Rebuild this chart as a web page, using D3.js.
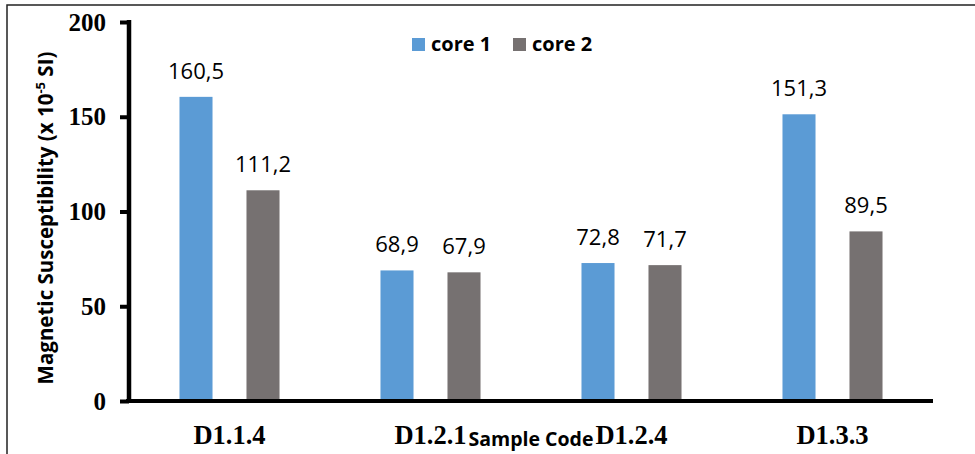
<!DOCTYPE html>
<html>
<head>
<meta charset="utf-8">
<script src="https://cdn.jsdelivr.net/npm/d3@7"></script>
<style>
  html, body { margin: 0; padding: 0; background: #fff; }
  svg { display: block; }
</style>
</head>
<body>
<svg id="chart" width="975" height="454"></svg>
<script>
const categories = ["D1.1.4", "D1.2.1", "D1.2.4", "D1.3.3"];
const seriesNames = ["core 1", "core 2"];
const core1 = [160.5, 68.9, 72.8, 151.3];
const core2 = [111.2, 67.9, 71.7, 89.5];
const yTicks = [0, 50, 100, 150, 200];
const colors = ["#5B9BD5", "#767171"];

const svg = d3.select("#chart");
const W = 975, H = 454;
const plot = { left: 129, right: 933, top: 22, bottom: 401 };

// frame
svg.append("rect").attr("x", 7).attr("y", 5).attr("width", W + 10).attr("height", H + 10)
  .attr("fill", "none").attr("stroke", "#222").attr("stroke-width", 1.5);

const x0 = d3.scaleBand().domain(categories).range([plot.left, plot.right]).padding(0);
const x1 = d3.scaleBand().domain(seriesNames).range([0, x0.bandwidth()])
  .paddingInner(0.507).paddingOuter(0.7535);
const y = d3.scaleLinear().domain([0, 200]).range([plot.bottom, plot.top]);

const locale = d3.formatLocale({ decimal: ",", thousands: ".", grouping: [3], currency: ["", ""] });
const fmt = locale.format(".1f");

const rows = categories.map((c, i) => ({ cat: c, vals: [core1[i], core2[i]] }));

// bars
const g = svg.append("g");
rows.forEach(r => {
  r.vals.forEach((v, j) => {
    const s = seriesNames[j];
    g.append("rect")
      .attr("x", x0(r.cat) + x1(s))
      .attr("y", y(v))
      .attr("width", x1.bandwidth())
      .attr("height", y(0) - y(v))
      .attr("fill", colors[j]);
    g.append("text")
      .attr("x", x0(r.cat) + x1(s) + x1.bandwidth() / 2)
      .attr("y", y(v) - 18)
      .attr("text-anchor", "middle")
      .attr("font-family", "'Open Sans', sans-serif")
      .attr("font-size", 22)
      .attr("fill", "#000")
      .text(fmt(v));
  });
});

// y axis
const yAxis = d3.axisLeft(y).tickValues(yTicks).tickSize(9).tickPadding(14).tickFormat(d3.format("d"));
const ya = svg.append("g").attr("transform", `translate(${plot.left},0)`).call(yAxis);
ya.select(".domain").attr("stroke", "#000").attr("stroke-width", 4.5)
  .attr("d", `M0,${plot.top - 2}V${plot.bottom + 2}`);
ya.selectAll(".tick line").attr("stroke", "#000").attr("stroke-width", 4);
ya.selectAll(".tick text")
  .attr("font-family", "'Liberation Serif', 'Times New Roman', serif")
  .attr("font-weight", "bold").attr("font-size", 25).attr("fill", "#000");

// x axis
const xAxis = d3.axisBottom(x0).tickSize(0).tickPadding(24);
const xa = svg.append("g").attr("transform", `translate(0,${plot.bottom})`).call(xAxis);
xa.select(".domain").attr("stroke", "#000").attr("stroke-width", 4)
  .attr("d", `M${plot.left - 3},0H${plot.right}`);
xa.selectAll(".tick text")
  .attr("font-family", "'Liberation Serif', 'Times New Roman', serif")
  .attr("font-weight", "bold").attr("font-size", 26.5).attr("fill", "#000");

// x axis title
svg.append("text")
  .attr("x", (plot.left + plot.right) / 2).attr("y", 446)
  .attr("text-anchor", "middle")
  .attr("font-family", "'Open Sans', sans-serif")
  .attr("font-weight", "bold").attr("font-size", 19.5)
  .text("Sample Code");

// y axis title
const yt = svg.append("text")
  .attr("transform", "translate(53,218) rotate(-90)")
  .attr("text-anchor", "middle")
  .attr("font-family", "'Open Sans', sans-serif")
  .attr("font-weight", "bold").attr("font-size", 20.5);
yt.append("tspan").text("Magnetic Susceptibility (x 10");
yt.append("tspan").attr("dy", -8).attr("font-size", 13).text("-5");
yt.append("tspan").attr("dy", 8).text(" SI)");

// legend
const legendPos = [412, 513];
seriesNames.forEach((s, j) => {
  svg.append("rect").attr("x", legendPos[j]).attr("y", 38).attr("width", 13).attr("height", 13)
    .attr("fill", colors[j]);
  svg.append("text").attr("x", legendPos[j] + 19).attr("y", 51)
    .attr("font-family", "'Open Sans', sans-serif")
    .attr("font-weight", "bold").attr("font-size", 20)
    .text(s);
});
</script>
</body>
</html>
